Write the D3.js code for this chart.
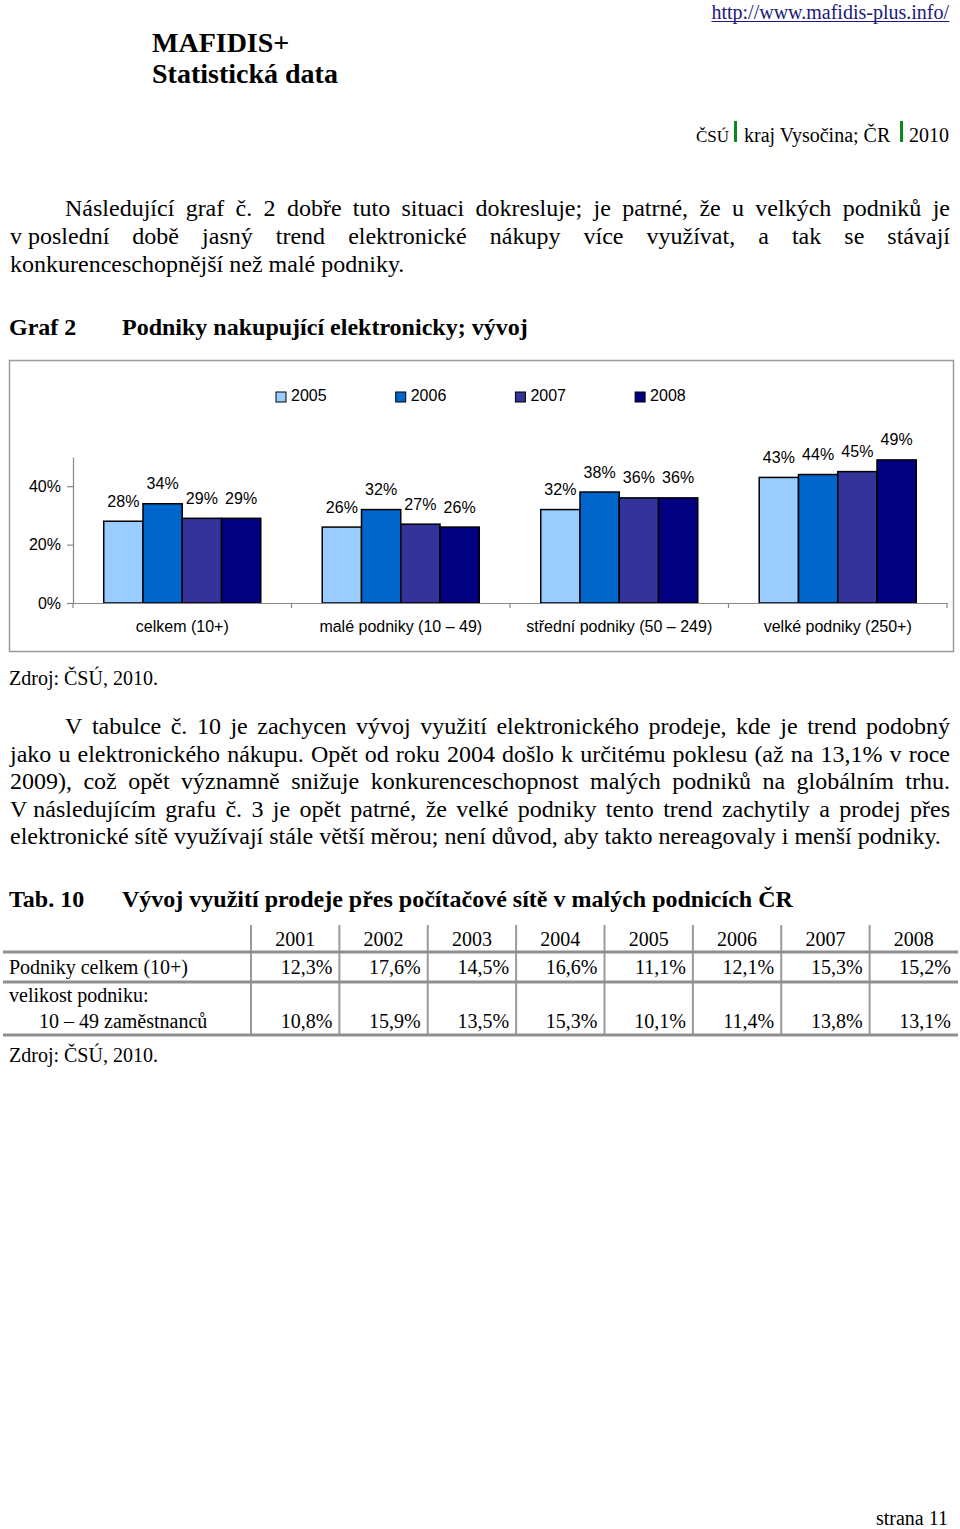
<!DOCTYPE html>
<html>
<head>
<meta charset="utf-8">
<script src="https://cdn.jsdelivr.net/npm/d3@7"></script>
<style>
  html, body { margin: 0; padding: 0; background: #fff; }
  svg { display: block; }
</style>
</head>
<body>
<script>
// ---------- DATA ----------
const chartCategories = ["celkem (10+)", "malé podniky (10 – 49)", "střední podniky (50 – 249)", "velké podniky (250+)"];
const chartYears = ["2005", "2006", "2007", "2008"];
const values2005 = [28, 26, 32, 43];
const values2006 = [34, 32, 38, 44];
const values2007 = [29, 27, 36, 45];
const values2008 = [29, 26, 36, 49];
const yTickValues = [0, 20, 40];
const yMax = 50;

const tableYears = ["2001", "2002", "2003", "2004", "2005", "2006", "2007", "2008"];
const tableTotal = [12.3, 17.6, 14.5, 16.6, 11.1, 12.1, 15.3, 15.2];
const tableSmall = [10.8, 15.9, 13.5, 15.3, 10.1, 11.4, 13.8, 13.1];

const para1 = [
  "Následující graf č. 2 dobře tuto situaci dokresluje; je patrné, že u velkých podniků je",
  "v\u00a0poslední době jasný trend elektronické nákupy více využívat, a tak se stávají",
  "konkurenceschopnější než malé podniky."
];
const para2 = [
  "V tabulce č. 10 je zachycen vývoj využití elektronického prodeje, kde je trend podobný",
  "jako u elektronického nákupu. Opět od roku 2004 došlo k určitému poklesu (až na 13,1% v roce",
  "2009), což opět významně snižuje konkurenceschopnost malých podniků na globálním trhu.",
  "V\u00a0následujícím grafu č. 3 je opět patrné, že velké podniky tento trend zachytily a prodej přes",
  "elektronické sítě využívají stále větší měrou; není důvod, aby takto nereagovaly i menší podniky."
];

// ---------- SETUP ----------
const SERIF = "'Liberation Serif', 'Times New Roman', serif";
const SANS = "'Liberation Sans', Arial, sans-serif";
const svg = d3.select("body").append("svg").attr("width", 960).attr("height", 1529);
svg.append("rect").attr("width", 960).attr("height", 1529).attr("fill", "#fff");

function txt(s, x, y, size, opts = {}) {
  return svg.append("text").attr("x", x).attr("y", y)
    .attr("font-family", opts.family || SERIF).attr("font-size", size)
    .attr("font-weight", opts.bold ? "bold" : null)
    .attr("text-anchor", opts.anchor || "start")
    .attr("fill", opts.fill || "#000").text(s);
}

function justifyLine(s, x0, x1, y, size) {
  const words = s.split(" ");
  const t = svg.append("text").attr("y", y).attr("font-family", SERIF).attr("font-size", size).attr("fill", "#000");
  const spans = words.map(w => t.append("tspan").text(w));
  const widths = spans.map(sp => sp.node().getComputedTextLength());
  const total = d3.sum(widths);
  const gap = (x1 - x0 - total) / (words.length - 1);
  let cx = x0;
  spans.forEach((sp, i) => { sp.attr("x", cx); cx += widths[i] + gap; });
}

// ---------- HEADER ----------
const url = txt("http://www.mafidis-plus.info/", 949, 19, 20, { anchor: "end", fill: "#1a1a7a" });
const ub = url.node().getBBox();
svg.append("line").attr("x1", ub.x).attr("x2", ub.x + ub.width).attr("y1", 21.5).attr("y2", 21.5)
  .attr("stroke", "#1a1a7a").attr("stroke-width", 1);
txt("MAFIDIS+", 152, 52, 28, { bold: true });
txt("Statistická data", 152, 83, 28, { bold: true });

txt("ČSÚ", 696, 142, 17);
svg.append("rect").attr("x", 734).attr("y", 121).attr("width", 3).attr("height", 21).attr("fill", "#0a8a1a");
txt("kraj Vysočina; ČR", 744, 142, 20);
svg.append("rect").attr("x", 900).attr("y", 121).attr("width", 3).attr("height", 21).attr("fill", "#0a8a1a");
txt("2010", 949, 142, 20, { anchor: "end" });

// ---------- PARAGRAPH 1 ----------
justifyLine(para1[0], 65, 950, 216, 24);
justifyLine(para1[1], 10, 950, 244, 24);
txt(para1[2], 10, 272, 24);

// ---------- CHART TITLE ----------
txt("Graf 2", 9, 335, 24, { bold: true });
txt("Podniky nakupující elektronicky; vývoj", 122, 335, 24, { bold: true });

// ---------- CHART ----------
const series = chartYears.map((yr, i) => ({ year: yr, values: [values2005, values2006, values2007, values2008][i] }));
const colors = d3.scaleOrdinal().domain(chartYears).range(["#99ccff", "#0066cc", "#333399", "#000080"]);

svg.append("rect").attr("x", 9.5).attr("y", 360.5).attr("width", 944).attr("height", 291)
  .attr("fill", "#fff").attr("stroke", "#9a9a9a").attr("stroke-width", 1.5);

const y = d3.scaleLinear().domain([0, yMax]).range([603, 457]);
const x0 = d3.scaleBand().domain(chartCategories).range([73, 947]).padding(0);
const x1 = d3.scaleBand().domain(chartYears).range([0, x0.bandwidth()]).paddingInner(0).paddingOuter(0.783);

// y axis
const yAxis = svg.append("g").attr("transform", "translate(73,0)")
  .call(d3.axisLeft(y).tickValues(yTickValues).tickFormat(d => d + "%").tickSize(6).tickSizeOuter(0).tickPadding(6));
yAxis.select(".domain").attr("stroke", "#888").attr("stroke-width", 1.2);
yAxis.selectAll(".tick line").attr("stroke", "#888").attr("stroke-width", 1.2);
yAxis.selectAll(".tick text").attr("font-family", SANS).attr("font-size", 16).attr("fill", "#000");

// bars
const groups = svg.append("g").selectAll("g").data(series).join("g").attr("fill", d => colors(d.year));
groups.selectAll("rect").data(d => d.values.map((v, i) => ({ v, cat: chartCategories[i], year: d.year })))
  .join("rect")
  .attr("x", d => x0(d.cat) + x1(d.year))
  .attr("y", d => y(d.v))
  .attr("width", x1.bandwidth())
  .attr("height", d => y(0) - y(d.v))
  .attr("stroke", "#000").attr("stroke-width", 1.5);

// bar labels
groups.selectAll("text").data(d => d.values.map((v, i) => ({ v, cat: chartCategories[i], year: d.year })))
  .join("text")
  .attr("x", d => x0(d.cat) + x1(d.year) + x1.bandwidth() / 2)
  .attr("y", d => y(d.v) - 14.5)
  .attr("text-anchor", "middle").attr("font-family", SANS).attr("font-size", 16).attr("fill", "#000")
  .text(d => d.v + "%");

// x axis
const xAxis = svg.append("g").attr("transform", "translate(0,603)")
  .call(d3.axisBottom(x0).tickSize(0).tickSizeOuter(0));
xAxis.select(".domain").attr("stroke", "#888").attr("stroke-width", 1.2);
xAxis.selectAll(".tick text").attr("font-family", SANS).attr("font-size", 16).attr("fill", "#000")
  .attr("y", 29).attr("dy", null);
const boundaries = chartCategories.map(c => x0(c)).concat([x0.range()[1]]);
xAxis.selectAll("line.bt").data(boundaries).join("line").attr("class", "bt")
  .attr("x1", d => d).attr("x2", d => d).attr("y1", 0).attr("y2", 5)
  .attr("stroke", "#888").attr("stroke-width", 1.2);

// legend
const legend = svg.append("g").selectAll("g").data(chartYears).join("g")
  .attr("transform", (d, i) => `translate(${276 + i * 119.7},392)`);
legend.append("rect").attr("width", 10).attr("height", 10).attr("fill", d => colors(d))
  .attr("stroke", "#000").attr("stroke-width", 1);
legend.append("text").attr("x", 15).attr("y", 9).attr("font-family", SANS).attr("font-size", 16)
  .attr("fill", "#000").text(d => d);

txt("Zdroj: ČSÚ, 2010.", 9, 685, 20);

// ---------- PARAGRAPH 2 ----------
justifyLine(para2[0], 65, 950, 734, 24);
justifyLine(para2[1], 10, 950, 761.5, 24);
justifyLine(para2[2], 10, 950, 789, 24);
justifyLine(para2[3], 10, 950, 816.5, 24);
txt(para2[4], 10, 844, 24);

// ---------- TABLE ----------
txt("Tab. 10", 9, 907, 24, { bold: true });
txt("Vývoj využití prodeje přes počítačové sítě v malých podnicích ČR", 122, 907, 24, { bold: true });

const tx = d3.scaleBand().domain(tableYears).range([251, 958]);
const fmt = v => d3.format(".1f")(v).replace(".", ",") + "%";
const tbl = svg.append("g");

tbl.selectAll("line.v").data(tableYears).join("line").attr("class", "v")
  .attr("x1", d => tx(d)).attr("x2", d => tx(d)).attr("y1", 925).attr("y2", 1035)
  .attr("stroke", "#9a9a9a").attr("stroke-width", 2);
[952, 982, 1035].forEach(yy => {
  tbl.append("line").attr("x1", 3).attr("x2", 958).attr("y1", yy).attr("y2", yy)
    .attr("stroke", "#8f8f8f").attr("stroke-width", 3);
});

tbl.selectAll("text.yr").data(tableYears).join("text").attr("class", "yr")
  .attr("x", d => tx(d) + tx.bandwidth() / 2).attr("y", 946)
  .attr("text-anchor", "middle").attr("font-family", SERIF).attr("font-size", 20).text(d => d);
tbl.selectAll("text.r1").data(tableTotal).join("text").attr("class", "r1")
  .attr("x", (d, i) => tx(tableYears[i]) + tx.bandwidth() - 7).attr("y", 974)
  .attr("text-anchor", "end").attr("font-family", SERIF).attr("font-size", 20).text(fmt);
tbl.selectAll("text.r2").data(tableSmall).join("text").attr("class", "r2")
  .attr("x", (d, i) => tx(tableYears[i]) + tx.bandwidth() - 7).attr("y", 1028)
  .attr("text-anchor", "end").attr("font-family", SERIF).attr("font-size", 20).text(fmt);

txt("Podniky celkem (10+)", 9, 974, 20);
txt("velikost podniku:", 9, 1002, 20);
txt("10 – 49 zaměstnanců", 39, 1028, 20);

txt("Zdroj: ČSÚ, 2010.", 9, 1062, 20);

// ---------- FOOTER ----------
txt("strana 11", 948, 1525, 20, { anchor: "end" });
</script>
</body>
</html>
